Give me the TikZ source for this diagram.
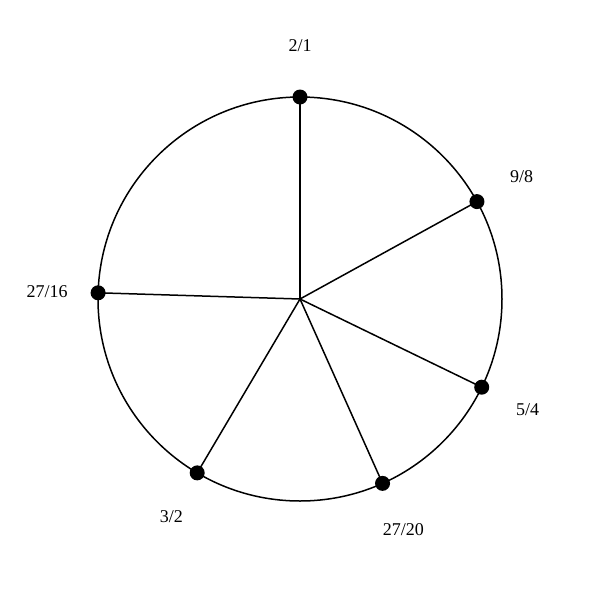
\documentclass[tikz,border=0pt]{standalone}
\usepackage{fontspec}
\setmainfont{Liberation Serif}
\usetikzlibrary{calc}
\begin{document}
\begin{tikzpicture}[x=1pt,y=-1pt,
  ring/.style={draw=black,line width=1.5pt},
  spoke/.style={draw=black,line width=1.5pt},
  dot/.style={circle,fill=black,inner sep=0pt,minimum size=15pt},
  lab/.style={font=\fontsize{18}{21}\selectfont,inner sep=0pt}]
\useasboundingbox (0,0) rectangle (600,600);
\coordinate (c) at (300,299);
\draw[ring] (c) circle[radius=202];
\foreach \n/\a/\t in {a/0/2\slash 1, b/61.17/9\slash 8, d/115.89/5\slash 4, e/155.88/27\slash 20, f/210.59/3\slash 2, g/271.76/27\slash 16}{
  \coordinate (p\n) at ($(c)+({202*sin(\a)},{-202*cos(\a)})$);
  \draw[spoke] (c) -- (p\n);
  \node[dot] (d\n) at (p\n) {};
  \node[lab] (l\n) at ($(c)+({253*sin(\a)},{-253*cos(\a)})$) {\t};
}
\end{tikzpicture}
\end{document}
